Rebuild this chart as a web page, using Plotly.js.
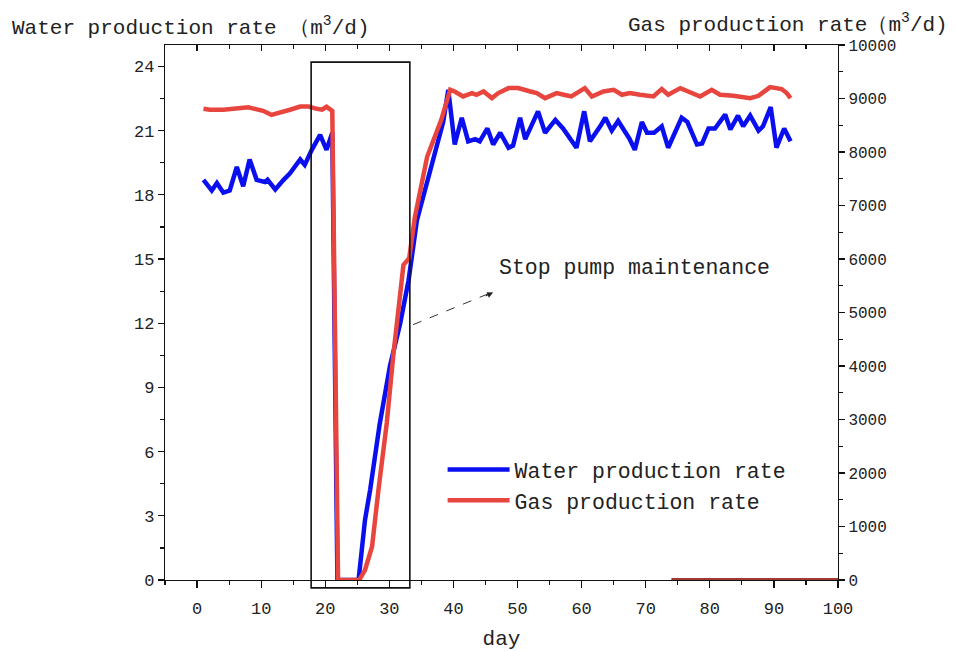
<!DOCTYPE html>
<html>
<head>
<meta charset="utf-8">
<script src="https://cdn.plot.ly/plotly-3.0.1.min.js"></script>
<style>html,body{margin:0;padding:0;background:#fff;}#chart{width:955px;height:651px;}</style>
</head>
<body>
<div id="chart"></div>
<script>
var waterDay = [1,2.3,3.1,4.1,5.1,6.2,7.2,8.2,9.3,10.6,11,12.2,13.5,14.5,16.1,16.8,17.9,19.2,20.2,21.1,21.9,25.2,26.2,27,28.5,30.1,31.7,33,34.3,36.4,38.4,39.2,40.2,41.3,42.3,43.4,44.1,45.3,46.2,47.3,48.6,49.3,50.4,51.2,53.2,54.3,55.9,57.1,59.2,60.4,61.3,62.9,63.7,64.7,65.7,67.5,68.3,69.4,70.2,71.3,72.5,73.5,75.6,76.5,78,78.8,79.8,80.8,82.4,83.2,84.4,85.2,86.3,87.6,88.3,89.5,90.4,91.6,92.6];
var waterRate = [18.7,18.2,18.55,18.1,18.2,19.3,18.4,19.65,18.7,18.6,18.7,18.25,18.7,19.0,19.65,19.4,20.1,20.8,20.1,20.9,0,0,2.8,4.2,7.3,10.0,12.0,14.0,16.8,19.2,21.4,22.9,20.35,21.6,20.5,20.6,20.5,21.1,20.35,20.9,20.2,20.3,21.6,20.6,21.9,20.9,21.5,21.1,20.2,21.9,20.5,21.2,21.6,21.0,21.45,20.6,20.1,21.4,20.9,20.9,21.2,20.2,21.6,21.4,20.35,20.4,21.1,21.1,21.75,21.05,21.7,21.2,21.7,21.0,21.2,22.1,20.2,21.1,20.5];

var gasDay = [1,2,4.1,6.2,8,9,10.3,11.6,12.7,14.5,16.1,17.4,18.7,19.5,20.2,21.1,22.0,25.3,26.2,27.3,28.3,29.6,30.6,31.7,32.2,33.1,34,35.9,38.1,39.5,40.2,41.5,42.9,43.6,44.7,46,47,48.6,50.1,52,53,54.3,56.1,57.2,58.4,60.5,61.6,63.4,65,66.3,67.5,69.1,71.2,72.5,73.5,75.4,76.6,78.5,80.3,81.6,83.7,86.3,87.6,89.4,91.2,92,92.6];
var gasRate = [8807,8790,8790,8807,8835,8807,8770,8695,8727,8790,8850,8850,8807,8790,8845,8770,0,0,187,623,1683,2935,4176,5298,5890,6015,6794,7910,8600,9163,9131,9038,9101,9070,9131,9007,9101,9194,9194,9131,9101,9007,9101,9070,9038,9194,9038,9131,9163,9070,9101,9070,9038,9176,9070,9194,9131,9038,9163,9070,9050,9007,9050,9213,9176,9101,9007];

var baseDay = [74, 100];
var baseRate = [0, 0];

var xTickVals = [0,10,20,30,40,50,60,70,80,90,100];
var boxDays = [17.8, 33.2];
var boxWater = [-0.37, 24.2];

var xRange = [-5, 100];
var yRange = [0, 25];
var y2Range = [0, 10000];

var FONT = "'Liberation Mono', 'DejaVu Sans Mono', monospace";
var TXT = '#222';

function px(v){ return (v - xRange[0]) / (xRange[1] - xRange[0]); }
function py(v){ return (v - yRange[0]) / (yRange[1] - yRange[0]); }

var traces = [
  {x: waterDay, y: waterRate, mode: 'lines', name: 'Water production rate',
   line: {color: '#0a0ff0', width: 4.5}, xaxis: 'x', yaxis: 'y'},
  {x: gasDay, y: gasRate, mode: 'lines', name: 'Gas production rate',
   line: {color: '#e8453f', width: 4.5}, xaxis: 'x', yaxis: 'y2'},
  {x: baseDay, y: baseRate, mode: 'lines', showlegend: false, hoverinfo: 'skip',
   line: {color: '#a33838', width: 4}, xaxis: 'x', yaxis: 'y2'},
  {x: [xRange[0]], y: [null], mode: 'lines', showlegend: false, hoverinfo: 'skip',
   xaxis: 'x2', yaxis: 'y'}
];

var tickFont = {family: FONT, size: 17, color: TXT};

var layout = {
  width: 955, height: 651,
  margin: {l: 165, r: 117, t: 45, b: 71},
  paper_bgcolor: '#fff', plot_bgcolor: '#fff',
  showlegend: true,
  legend: {x: 0.4125, y: 0.245, xanchor: 'left', yanchor: 'top',
           font: {family: FONT, size: 21.5, color: TXT}, bgcolor: 'rgba(0,0,0,0)',
           tracegroupgap: 0, itemwidth: 62},
  xaxis: {range: xRange, tickvals: xTickVals, ticks: 'outside', ticklen: 7, tickwidth: 1.2,
          tickcolor: '#111', showline: true, linecolor: '#111', linewidth: 1.2,
          showgrid: false, zeroline: false, tickfont: tickFont, ticklabelstandoff: 5,
          minor: {dtick: 5, tick0: 0, ticks: 'outside', ticklen: 4, tickcolor: '#111', showgrid: false},
          title: {text: 'day', font: {family: FONT, size: 21, color: TXT}, standoff: 18}},
  xaxis2: {range: xRange, overlaying: 'x', side: 'top', tickvals: xTickVals, ticks: 'inside',
           ticklen: 6, tickwidth: 1.2, tickcolor: '#111', showticklabels: false,
           showline: true, linecolor: '#111', linewidth: 1.2, showgrid: false, zeroline: false,
           minor: {dtick: 5, tick0: 0, ticks: 'inside', ticklen: 4, tickcolor: '#111', showgrid: false}},
  yaxis: {range: yRange, dtick: 3, tick0: 0, ticks: 'outside', ticklen: 6, tickwidth: 1.2,
          tickcolor: '#111', showline: true, linecolor: '#111', linewidth: 1.2,
          showgrid: false, zeroline: false, tickfont: tickFont,
          minor: {dtick: 1.5, tick0: 0, ticks: 'outside', ticklen: 4, tickcolor: '#111', showgrid: false}},
  yaxis2: {range: y2Range, overlaying: 'y', side: 'right', dtick: 1000, tick0: 0,
           tickformat: 'd',
           ticks: 'outside', ticklen: 6, tickwidth: 1.2, tickcolor: '#111',
           showline: true, linecolor: '#111', linewidth: 1.2, showgrid: false, zeroline: false,
           tickfont: {family: FONT, size: 16, color: TXT},
           minor: {dtick: 500, tick0: 0, ticks: 'outside', ticklen: 4, tickcolor: '#111', showgrid: false}},
  shapes: [
    {type: 'rect', xref: 'paper', yref: 'paper',
     x0: px(boxDays[0]), x1: px(boxDays[1]), y0: py(boxWater[0]), y1: py(boxWater[1]),
     line: {color: '#111', width: 1.6}, fillcolor: 'rgba(0,0,0,0)', layer: 'above'},
    {type: 'line', xref: 'x', yref: 'y', x0: 33.7, y0: 11.93, x1: 45.4, y1: 13.37,
     line: {color: '#333', width: 1, dash: 'dash'}}
  ],
  annotations: [
    {xref: 'paper', yref: 'paper', x: -0.2303, y: 1.034, xanchor: 'left', yanchor: 'middle',
     text: 'Water production rate （m<sup>3</sup>/d)', showarrow: false,
     font: {family: FONT, size: 21, color: TXT}},
    {xref: 'paper', yref: 'paper', x: 1.1664, y: 1.041, xanchor: 'right', yanchor: 'middle',
     text: 'Gas production rate（m<sup>3</sup>/d)', showarrow: false,
     font: {family: FONT, size: 21, color: TXT}},
    {xref: 'x', yref: 'y', x: 46.8, y: 14.6, xanchor: 'left', yanchor: 'middle',
     text: 'Stop pump maintenance', showarrow: false,
     font: {family: FONT, size: 21.5, color: TXT}},
    {xref: 'x', yref: 'y', x: 46.2, y: 13.43, text: '', showarrow: true,
     ax: -9, ay: 4, arrowhead: 2, arrowsize: 1.2, arrowwidth: 1, arrowcolor: '#222'}
  ]
};

Plotly.newPlot('chart', traces, layout, {displayModeBar: false, staticPlot: true});
</script>
</body>
</html>
